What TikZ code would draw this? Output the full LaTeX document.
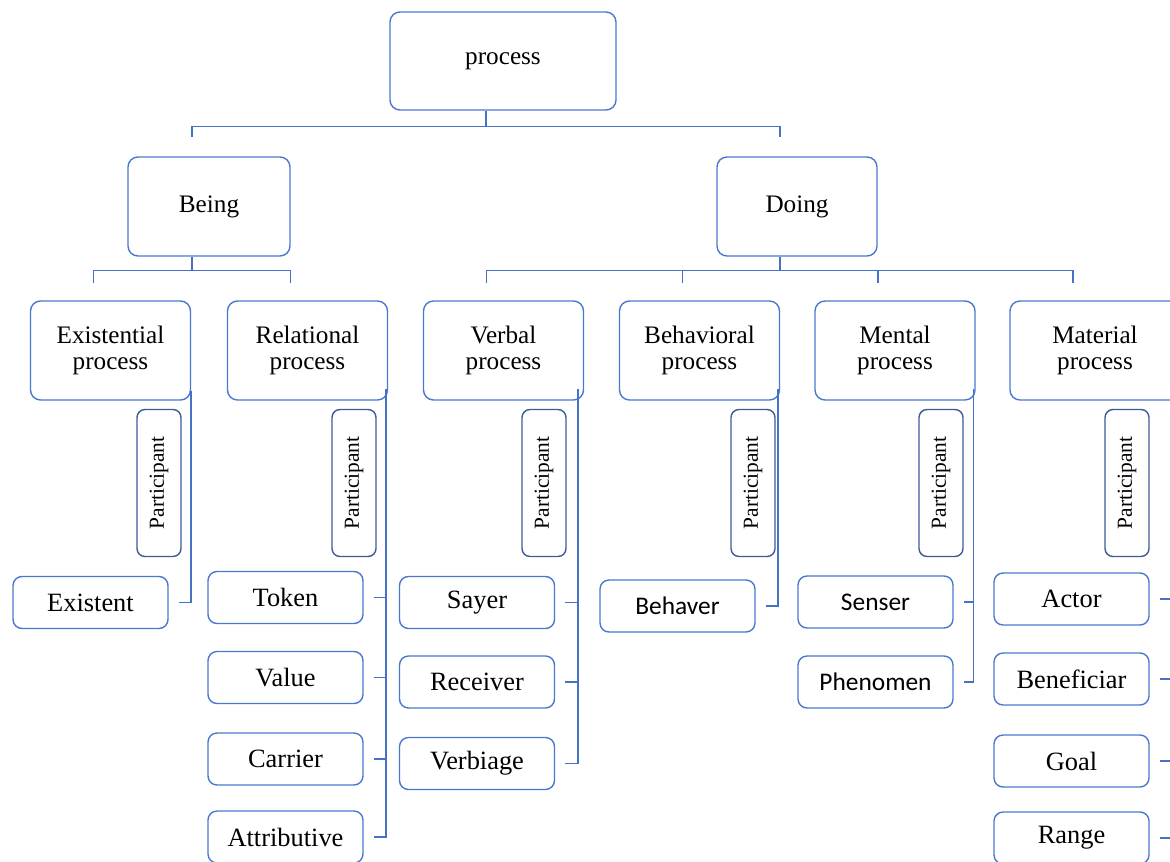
\documentclass[tikz,border=0pt]{standalone}
\usepackage{fontspec}
\setmainfont{Liberation Serif}
\newfontfamily\calib{Carlito}
\definecolor{boxblue}{HTML}{4A78CF}
\definecolor{partblue}{HTML}{3D5A96}
\definecolor{lineblue}{HTML}{4472C4}
\tikzset{
  proc/.style={draw=boxblue, line width=0.7pt, rounded corners=5pt, minimum width=80pt,
    minimum height=49.5pt, align=center, inner sep=0pt, font=\fontsize{12.6}{12.8}\selectfont},
  leaf/.style={draw=boxblue, line width=0.7pt, rounded corners=4.5pt, minimum width=77.5pt,
    minimum height=26pt, inner sep=0pt, font=\fontsize{13.2}{14}\selectfont},
  sansleaf/.style={leaf, font=\calib\fontsize{12.7}{14}\selectfont},
  part/.style={draw=partblue, line width=0.7pt, rounded corners=4pt, rotate=90,
    minimum width=73.5pt, minimum height=22pt, inner sep=0pt, font=\fontsize{10.7}{12}\selectfont},
  conn/.style={draw=lineblue, line width=0.75pt},
}
\begin{document}
\begin{tikzpicture}[x=0.5pt,y=-0.5pt]
\useasboundingbox (0,0) rectangle (1170,861);
\clip (0,0) rectangle (1170,861);
% process levels
\node[proc, minimum width=113pt, minimum height=49pt] (process) at (503,61) {process};
\node[proc, minimum width=81pt] (being) at (209,206.5) {Being};
\node[proc] (doing) at (797,206.5) {Doing};
\node[proc] (exist) at (110.5,350.5) {Existential\\process};
\node[proc] (rel) at (307.5,350.5) {Relational\\process};
\node[proc] (verb) at (503.5,350.5) {Verbal\\process};
\node[proc] (beh) at (699.5,350.5) {Behavioral\\process};
\node[proc] (ment) at (895,350.5) {Mental\\process};
\node[proc, minimum width=85pt] (mater) at (1095,350.5) {Material\\process};
% participant tags
\foreach \n/\x in {pexist/159, prel/354, pverb/544, pbeh/753, pment/941, pmat/1127}
  \node[part] (\n) at (\x,483) {Participant};
% participants
\node[leaf] (existent) at (90.5,602.5) {Existent};
\node[leaf] (token) at (285.5,597.5) {Token};
\node[leaf] (value) at (285.5,677.5) {Value};
\node[leaf] (carrier) at (285.5,759) {Carrier};
\node[leaf] (attrib) at (285.5,837) {Attributive};
\node[leaf] (sayer) at (477,602.5) {Sayer};
\node[leaf] (receiver) at (477,682) {Receiver};
\node[leaf] (verbiage) at (477,763.5) {Verbiage};
\node[sansleaf] (behaver) at (677.5,606) {Behaver};
\node[sansleaf] (senser) at (875.5,602) {Senser};
\node[sansleaf] (phenomen) at (875.5,682) {Phenomen};
\node[leaf] (actor) at (1071.5,599) {Actor};
\node[leaf] (benef) at (1071.5,679) {Beneficiar};
\node[leaf] (goal) at (1071.5,761) {Goal};
\node[leaf] (range) at (1071.5,838) {Range};
% tree connectors
\draw[conn] ([xshift=-8.5pt]process.south) -- ++(0,16) coordinate (t1);
\foreach \c in {being,doing} \draw[conn] (t1) -| ([xshift=-8.5pt,yshift=9.5pt]\c.north);
\draw[conn] ([xshift=-8.5pt]being.south) -- ++(0,14) coordinate (t2);
\foreach \c in {exist,rel} \draw[conn] (t2) -| ([xshift=-8.5pt,yshift=8.5pt]\c.north);
\draw[conn] ([xshift=-8.5pt]doing.south) -- ++(0,14) coordinate (t3);
\foreach \c in {verb,beh,ment} \draw[conn] (t3) -| ([xshift=-8.5pt,yshift=8.5pt]\c.north);
\draw[conn] (t3) -| ([xshift=-11pt,yshift=8.5pt]mater.north);
% participant brackets
\coordinate (s1) at ([yshift=5pt]exist.south east);
\draw[conn] (s1) |- ([xshift=5pt]existent.east);
\coordinate (s2) at ([xshift=-1pt,yshift=6pt]rel.south east);
\draw[conn] (s2) |- ([xshift=5pt]attrib.east);
\foreach \l in {token,value,carrier} \draw[conn] ([xshift=5pt]\l.east) -- (\l.east -| s2);
\coordinate (s3) at ([xshift=-3pt,yshift=6pt]verb.south east);
\draw[conn] (s3) |- ([xshift=5pt]verbiage.east);
\foreach \l in {sayer,receiver} \draw[conn] ([xshift=5pt]\l.east) -- (\l.east -| s3);
\coordinate (s4) at ([xshift=-1pt,yshift=6pt]beh.south east);
\draw[conn] (s4) |- ([xshift=5pt]behaver.east);
\coordinate (s5) at ([xshift=-1pt,yshift=6pt]ment.south east);
\draw[conn] (s5) |- ([xshift=5pt]phenomen.east);
\draw[conn] ([xshift=5pt]senser.east) -- (senser.east -| s5);
\coordinate (s6) at (1173,388);
\draw[conn] (s6) |- ([xshift=5pt]range.east);
\foreach \l in {actor,benef,goal} \draw[conn] ([xshift=5pt]\l.east) -- (\l.east -| s6);
\end{tikzpicture}
\end{document}
